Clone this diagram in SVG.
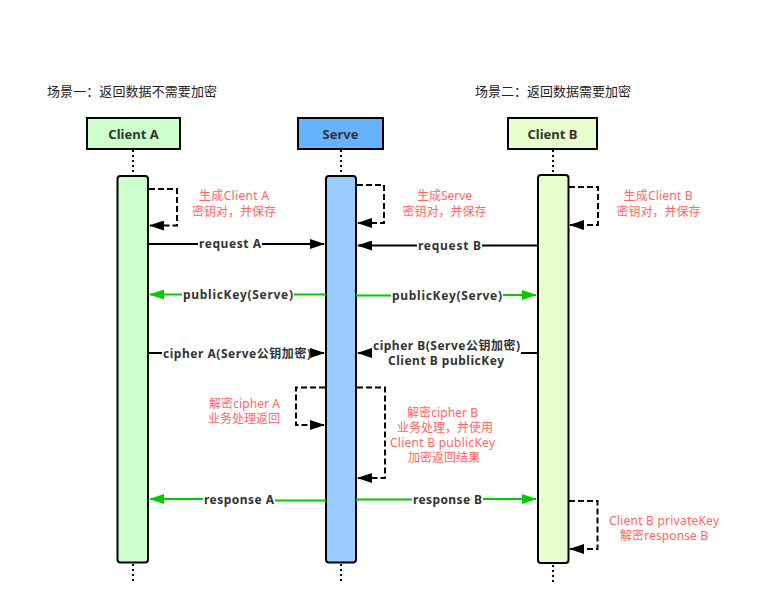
<svg xmlns="http://www.w3.org/2000/svg" width="761" height="614" viewBox="0 0 761 614">
<style>
text{font-family:"Noto Sans","Noto Sans CJK SC",sans-serif}
.title{font-size:13px;fill:#222}
.hdr{font-size:13px;font-weight:bold;fill:#333;text-anchor:middle}
.lbl{font-size:12px;font-weight:bold;fill:#333}
.note{font-size:12px;fill:#FF6666;text-anchor:middle}
.box{stroke:#000;stroke-width:2}
.life{stroke:#000;stroke-width:2;stroke-dasharray:2 3;fill:none}
.msg{stroke:#000;stroke-width:2;fill:none}
.ret{stroke:#00CC00;stroke-width:2;fill:none}
.self{stroke:#000;stroke-width:2;fill:none;stroke-dasharray:6 3}
</style>
<defs>
<marker id="ab" markerUnits="userSpaceOnUse" markerWidth="15" markerHeight="10" refX="14" refY="5" orient="auto"><path d="M0,0 L15,5 L0,10 z" fill="#000"/></marker>
<marker id="ag" markerUnits="userSpaceOnUse" markerWidth="15" markerHeight="10" refX="14" refY="5" orient="auto"><path d="M0,0 L15,5 L0,10 z" fill="#00CC00"/></marker>
</defs>
<rect width="761" height="614" fill="#fff"/>
<text class="title" x="47" y="96" textLength="170">场景一：返回数据不需要加密</text>
<text class="title" x="475" y="96" textLength="156">场景二：返回数据需要加密</text>

<g id="clientA">
<line class="life" x1="133" y1="150" x2="133" y2="176"/>
<line class="life" x1="133" y1="564" x2="133" y2="582"/>
<rect class="box" x="87" y="118" width="93" height="31" fill="#CCFFCC"/>
<text class="hdr" x="133.5" y="138.5">Client A</text>
<rect class="box" x="117.5" y="176" width="30.5" height="386.5" rx="3" fill="#CCFFCC"/>
</g>
<g id="serve">
<line class="life" x1="341" y1="150" x2="341" y2="176"/>
<line class="life" x1="341" y1="564" x2="341" y2="582"/>
<rect class="box" x="298" y="118" width="85" height="31" fill="#66B2FF"/>
<text class="hdr" x="340.5" y="138.5">Serve</text>
<rect class="box" x="326" y="176" width="30" height="386.5" rx="3" fill="#99CCFF"/>
</g>
<g id="clientB">
<line class="life" x1="553" y1="150" x2="553" y2="175"/>
<line class="life" x1="553" y1="565" x2="553" y2="582"/>
<rect class="box" x="508" y="118" width="89" height="31" fill="#E6FFCC"/>
<text class="hdr" x="552.5" y="138.5">Client B</text>
<rect class="box" x="538" y="175" width="30.5" height="388" rx="3" fill="#E6FFCC"/>
</g>

<g id="connectors">
<!-- self messages -->
<path class="self" d="M149,189 H177 V225.5 H150" marker-end="url(#ab)"/>
<path class="self" d="M357,185 H384 V223 H358" marker-end="url(#ab)"/>
<path class="self" d="M569,187 H598 V225 H570" marker-end="url(#ab)"/>
<path class="self" d="M325,387.5 H296 V425 H324" marker-end="url(#ab)"/>
<path class="self" d="M357,387.5 H385 V478 H358" marker-end="url(#ab)"/>
<path class="self" d="M569,501 H597.5 V549 H570" marker-end="url(#ab)"/>

<!-- request A -->
<line class="msg" x1="148" y1="244" x2="198" y2="244"/>
<line class="msg" x1="262" y1="244" x2="324" y2="244" marker-end="url(#ab)"/>
<text class="lbl" x="199" y="248" textLength="62">request A</text>
<!-- request B -->
<line class="msg" x1="538" y1="245.5" x2="482" y2="245.5"/>
<line class="msg" x1="417" y1="245.5" x2="358" y2="245.5" marker-end="url(#ab)"/>
<text class="lbl" x="418" y="249.5" textLength="63">request B</text>
<!-- publicKey left -->
<line class="ret" x1="326" y1="294.5" x2="294" y2="294.5"/>
<line class="ret" x1="182" y1="294.5" x2="150" y2="294.5" marker-end="url(#ag)"/>
<text class="lbl" x="183" y="299" textLength="110">publicKey(Serve)</text>
<!-- publicKey right -->
<line class="ret" x1="356" y1="295.5" x2="391" y2="295.5"/>
<line class="ret" x1="503" y1="295" x2="536" y2="295" marker-end="url(#ag)"/>
<text class="lbl" x="392" y="299.5" textLength="110">publicKey(Serve)</text>
<!-- cipher A -->
<line class="msg" x1="148" y1="353" x2="162" y2="353"/>
<line class="msg" x1="312" y1="353" x2="324" y2="353" marker-end="url(#ab)"/>
<text class="lbl" x="163" y="357.5" textLength="148">cipher A(Serve公钥加密)</text>
<!-- cipher B -->
<line class="msg" x1="538" y1="353" x2="521" y2="353"/>
<line class="msg" x1="372" y1="353" x2="358" y2="353" marker-end="url(#ab)"/>
<text class="lbl" x="373" y="350" textLength="147">cipher B(Serve公钥加密)</text>
<text class="lbl" x="388" y="365" textLength="116">Client B publicKey</text>
<!-- response A -->
<line class="ret" x1="326" y1="500.5" x2="275" y2="500.5"/>
<line class="ret" x1="203" y1="499" x2="150" y2="499" marker-end="url(#ag)"/>
<text class="lbl" x="204" y="504" textLength="70">response A</text>
<!-- response B -->
<line class="ret" x1="356" y1="499.5" x2="412" y2="499.5"/>
<line class="ret" x1="483" y1="499" x2="536" y2="499" marker-end="url(#ag)"/>
<text class="lbl" x="413" y="504" textLength="69">response B</text>

<!-- notes -->
<text class="note" x="234" y="200" textLength="70">生成Client A</text>
<text class="note" x="234" y="215.5" textLength="84">密钥对，并保存</text>
<text class="note" x="444.5" y="200" textLength="55">生成Serve</text>
<text class="note" x="444.5" y="215.5" textLength="84">密钥对，并保存</text>
<text class="note" x="658" y="200" textLength="69">生成Client B</text>
<text class="note" x="658.5" y="215.5" textLength="84">密钥对，并保存</text>
<text class="note" x="244.5" y="408" textLength="71">解密cipher A</text>
<text class="note" x="244" y="423" textLength="72">业务处理返回</text>
<text class="note" x="442.5" y="417" textLength="71">解密cipher B</text>
<text class="note" x="445" y="432" textLength="96">业务处理，并使用</text>
<text class="note" x="442.5" y="447" textLength="105">Client B publicKey</text>
<text class="note" x="444" y="461.5" textLength="72">加密返回结果</text>
<text class="note" x="664" y="524.5" textLength="110">Client B privateKey</text>
<text class="note" x="664" y="539.5" textLength="88">解密response B</text>
</g>
</svg>
